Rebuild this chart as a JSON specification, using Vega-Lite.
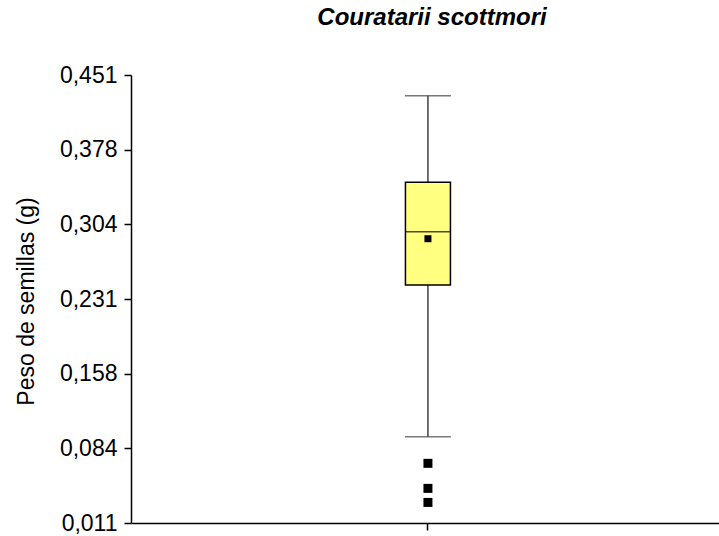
{
  "$schema": "https://vega.github.io/schema/vega-lite/v6.json",
  "width": 588,
  "height": 448,
  "autosize": {"type": "none"},
  "padding": {"left": 131, "top": 75, "right": 0, "bottom": 13},
  "config": {
    "view": {"stroke": null},
    "font": "Liberation Sans"
  },
  "title": {
    "text": "Couratarii scottmori",
    "fontStyle": "italic",
    "fontWeight": "bold",
    "fontSize": 24,
    "color": "#000000",
    "anchor": "middle",
    "frame": "group",
    "baseline": "alphabetic",
    "offset": 15,
    "dx": 7
  },
  "datasets": {
    "resumen": [
      {"especie": "Couratarii scottmori", "minimo": 0.0957, "q1": 0.2447, "mediana": 0.2971, "q3": 0.3456, "maximo": 0.4307, "media": 0.2902}
    ],
    "atipicos": [
      {"especie": "Couratarii scottmori", "peso": 0.0696},
      {"especie": "Couratarii scottmori", "peso": 0.0450},
      {"especie": "Couratarii scottmori", "peso": 0.0312}
    ]
  },
  "data": {"name": "resumen"},
  "encoding": {
    "x": {
      "field": "especie",
      "type": "nominal",
      "scale": {"paddingInner": 0, "paddingOuter": 0.5, "align": 0.51},
      "axis": {
        "title": null,
        "labels": false,
        "ticks": true,
        "tickSize": 7,
        "tickColor": "#000000",
        "tickWidth": 1.5,
        "domainColor": "#000000",
        "domainWidth": 1.5
      }
    }
  },
  "layer": [
    {
      "mark": {"type": "rule", "color": "#404040", "strokeWidth": 1.5},
      "encoding": {
        "y": {
          "field": "minimo",
          "type": "quantitative",
          "scale": {"domain": [0.011, 0.451], "nice": false, "zero": false},
          "axis": {
            "title": "Peso de semillas (g)",
            "titleFontSize": 23,
            "titleFontWeight": "normal",
            "titleColor": "#000000",
            "titleAngle": 270,
            "titleAlign": "center",
            "titleBaseline": "alphabetic",
            "titleX": -98,
            "titleY": 226,
            "values": [0.011, 0.08433, 0.15767, 0.231, 0.30433, 0.37767, 0.451],
            "labelExpr": "replace(format(datum.value, '.3f'), '.', ',')",
            "labelFontSize": 23,
            "labelColor": "#000000",
            "labelPadding": 7,
            "labelOverlap": false,
            "labelFlush": false,
            "tickSize": 7,
            "tickColor": "#000000",
            "tickWidth": 1.5,
            "domainColor": "#000000",
            "domainWidth": 1.5,
            "grid": false
          }
        },
        "y2": {"field": "maximo"}
      }
    },
    {
      "mark": {"type": "tick", "color": "#404040", "size": 46, "thickness": 1.5},
      "encoding": {"y": {"field": "minimo", "type": "quantitative"}}
    },
    {
      "mark": {"type": "tick", "color": "#404040", "size": 46, "thickness": 1.5},
      "encoding": {"y": {"field": "maximo", "type": "quantitative"}}
    },
    {
      "mark": {"type": "bar", "fill": "#FFFF80", "stroke": "#000000", "strokeWidth": 1.5, "size": 45},
      "encoding": {
        "y": {"field": "q1", "type": "quantitative"},
        "y2": {"field": "q3"}
      }
    },
    {
      "mark": {"type": "tick", "color": "#000000", "size": 45, "thickness": 1.5},
      "encoding": {"y": {"field": "mediana", "type": "quantitative"}}
    },
    {
      "mark": {"type": "point", "shape": "square", "filled": true, "color": "#000000", "opacity": 1, "size": 49},
      "encoding": {"y": {"field": "media", "type": "quantitative"}}
    },
    {
      "data": {"name": "atipicos"},
      "mark": {"type": "point", "shape": "square", "filled": true, "color": "#000000", "opacity": 1, "size": 81},
      "encoding": {"y": {"field": "peso", "type": "quantitative"}}
    }
  ]
}
